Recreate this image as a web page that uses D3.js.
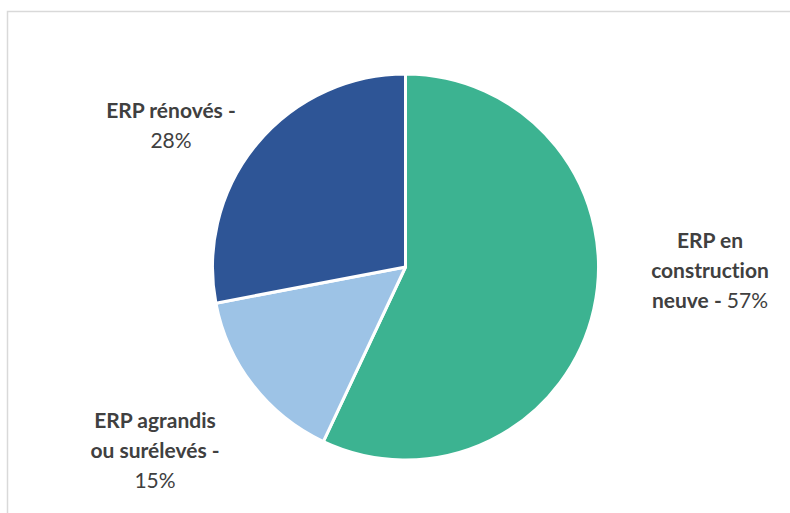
<!DOCTYPE html>
<html>
<head>
<meta charset="utf-8">
<script src="https://cdn.jsdelivr.net/npm/d3@7"></script>
<style>
  html, body { margin: 0; padding: 0; background: #fff; }
  svg { display: block; }
  text { font-variant-ligatures: none; }
</style>
</head>
<body>
<svg id="chart" width="790" height="513"></svg>
<script>
// Share of ERP (établissements recevant du public) by type of works
const categories = ["ERP en construction neuve", "ERP agrandis ou surélevés", "ERP rénovés"];
const values = [57, 15, 28];
const colors = ["#3cb391", "#9dc3e6", "#2e5596"];
// Label lines: bold part and regular part per line
const labelLines = [
  [[["ERP en", true]], [["construction", true]], [["neuve - ", true], ["57%", false]]],
  [[["ERP agrandis", true]], [["ou surélevés -", true]], [["15%", false]]],
  [[["ERP rénovés -", true]], [["28%", false]]]
];
const labelAnchors = [[710, 248], [155, 428], [171, 118]];

const svg = d3.select("#chart");
const W = 790, H = 513;

// chart frame
svg.append("rect")
  .attr("x", 7.5).attr("y", 11.5)
  .attr("width", W + 10).attr("height", H + 10)
  .attr("fill", "#fff")
  .attr("stroke", "#d9d9d9").attr("stroke-width", 1.5);

const cx = 405.5, cy = 267, r = 193;

const pie = d3.pie().sort(null).value(d => d)(values);
const arc = d3.arc().innerRadius(0).outerRadius(r);

const g = svg.append("g").attr("transform", `translate(${cx},${cy})`);
g.selectAll("path")
  .data(pie)
  .join("path")
  .attr("d", arc)
  .attr("fill", (d, i) => colors[i])
  .attr("stroke", "#fff")
  .attr("stroke-width", 3)
  .attr("stroke-linejoin", "round");

// labels
const lineH = 30;
labelLines.forEach((lines, i) => {
  const [lx, ly] = labelAnchors[i];
  const t = svg.append("text")
    .attr("text-anchor", "middle")
    .attr("font-family", "Lato, 'Open Sans', sans-serif")
    .attr("font-size", 21)
    .attr("fill", "#404040");
  lines.forEach((parts, j) => {
    parts.forEach((p, k) => {
      const ts = t.append("tspan")
        .text(p[0])
        .attr("font-weight", p[1] ? "bold" : "normal");
      if (k === 0) ts.attr("x", lx).attr("y", ly + j * lineH);
    });
  });
});
</script>
</body>
</html>
